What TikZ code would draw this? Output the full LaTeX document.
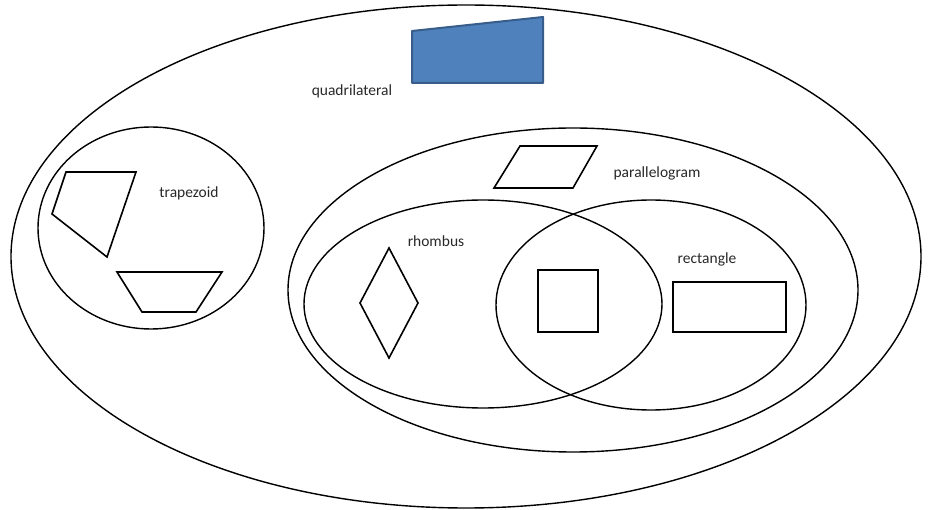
\documentclass[tikz,border=0pt]{standalone}
\usepackage{fontspec}
\setmainfont{Carlito}
\begin{document}
\begin{tikzpicture}[x=1pt,y=-1pt,
  outline/.style={draw=black,line width=1.4pt},
  shapeline/.style={draw=black,line width=1.6pt,line join=miter},
  lbl/.style={font=\fontsize{15.5}{18}\selectfont,text={rgb,255:red,40;green,40;blue,40},inner sep=0pt}]
\useasboundingbox (0,0) rectangle (930,510);
% set ellipses
\draw[outline] (466,256.5) ellipse [x radius=455, y radius=251.5];
\draw[outline] (151,228) ellipse [x radius=113, y radius=101];
\draw[outline] (573,290) ellipse [x radius=285, y radius=162];
\draw[outline] (483,304) ellipse [x radius=179, y radius=104];
\draw[outline] (651,305) ellipse [x radius=155, y radius=105];
% blue quadrilateral
\draw[fill={rgb,255:red,79;green,129;blue,189},draw={rgb,255:red,56;green,93;blue,138},line width=2pt,line join=round]
  (412,31) -- (543,17) -- (543,83) -- (412,83) -- cycle;
\node[lbl] (quad) at (352,91) {quadrilateral};
% trapezoid group
\draw[shapeline] (66,172) -- (136,172) -- (107,257) -- (52,214) -- cycle;
\draw[shapeline] (117,272) -- (222,272) -- (196,312) -- (142,312) -- cycle;
\node[lbl] (trap) at (189,193) {trapezoid};
% parallelogram
\draw[shapeline] (520,146) -- (597,146) -- (573,188) -- (494,188) -- cycle;
\node[lbl] (para) at (657,173) {parallelogram};
% rhombus
\draw[shapeline] (389,248) -- (418,303) -- (389,358) -- (360,303) -- cycle;
\node[lbl] (rhom) at (436,241) {rhombus};
% square
\draw[shapeline] (538,270) rectangle (598,332);
% rectangle
\draw[shapeline] (673,282) rectangle (786,332);
\node[lbl] (rect) at (707,259) {rectangle};
\end{tikzpicture}
\end{document}
